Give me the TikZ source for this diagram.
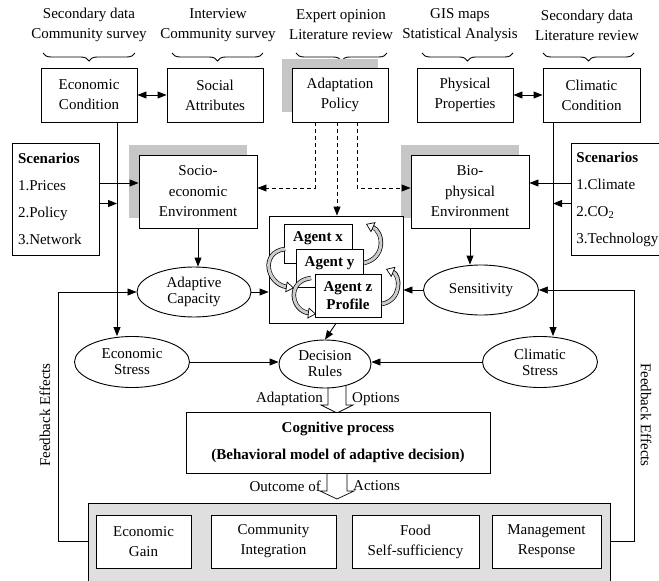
\documentclass[tikz,border=0pt]{standalone}
\usepackage{fontspec}
\setmainfont{Liberation Serif}
\usetikzlibrary{arrows.meta, shapes.geometric, decorations.pathreplacing}
\newcommand\curvarr[4]{%
  \draw[line width=4.4pt, shorten >=7pt] #1 .. controls #2 and #3 .. #4;
  \draw[line width=3pt, gray!40, shorten >=6.6pt] #1 .. controls #2 and #3 .. #4;
  \draw[line width=0.7pt, gray!40, -{Triangle[fill=white, color=black, length=8pt, width=11pt]}] #1 .. controls #2 and #3 .. #4;}
\begin{document}
\begin{tikzpicture}[x=1pt, y=-1pt,
  font=\fontsize{15}{20}\selectfont,
  box/.style={draw, line width=0.9pt, fill=white, align=center, inner sep=0pt},
  ell/.style={draw, ellipse, line width=0.9pt, fill=white, align=center, inner sep=0pt},
  arr/.style={line width=0.9pt, -{Triangle[length=9pt, width=7pt]}},
  darr/.style={line width=0.9pt, {Triangle[length=9pt, width=7pt]}-{Triangle[length=9pt, width=7pt]}},
  dsh/.style={line width=0.9pt, dash pattern=on 4pt off 3pt},
  shadowbox/.style={fill=gray!45, draw=none},
  brc/.style={decorate, decoration={brace, mirror, amplitude=8pt}, line width=0.9pt},
  lbl/.style={align=center, inner sep=0pt},
  fb/.style={line width=0.6pt},
  blk/.style={line width=0.7pt, fill=white},
  agtext/.style={font=\fontsize{15}{18}\selectfont\bfseries, inner sep=0pt, align=center},
]
\useasboundingbox (0,0) rectangle (659,581);

% top labels
\node[lbl] (l1) at (89,25) {Secondary data\\Community survey};
\node[lbl] (l2) at (218,25) {Interview\\Community survey};
\node[lbl] (l3) at (341,25) {Expert opinion\\Literature review};
\node[lbl] (l4) at (460,25) {GIS maps\\Statistical Analysis};
\node[lbl] (l5) at (587,25) {Secondary data\\Literature review};
\draw[brc] (43,53) -- (135,53);
\draw[brc] (172,53) -- (263,53);
\draw[brc] (296,53) -- (387,53);
\draw[brc] (422,53) -- (513,53);
\draw[brc] (543,53) -- (634,53);

% shadows
\fill[shadowbox] (282,59) rectangle (378,112);
\fill[shadowbox] (129,145) rectangle (247,218);
\fill[shadowbox] (401,145) rectangle (519,218);

% top boxes
\node[box, minimum width=96pt, minimum height=54pt] (econ) at (89,95) {Economic\\Condition};
\node[box, minimum width=96pt, minimum height=54pt] (social) at (215,95) {Social\\Attributes};
\node[box, minimum width=96pt, minimum height=54pt] (policy) at (340,95) {Adaptation\\Policy};
\node[box, minimum width=96pt, minimum height=54pt] (phys) at (465,95) {Physical\\Properties};
\node[box, minimum width=97pt, minimum height=54pt] (clim) at (591.5,95) {Climatic\\Condition};
\draw[darr] (econ) -- (social);
\draw[darr] (phys) -- (clim);

% scenario boxes
\node[box, align=left, text width=75pt, inner xsep=6pt, minimum height=112pt,
      font=\fontsize{15}{27}\selectfont] (scenL) at (55.5,199)
      {\textbf{Scenarios}\\1.Prices\\2.Policy\\3.Network};
\node[box, align=left, text width=84pt, inner xsep=5pt, minimum height=112pt,
      font=\fontsize{15}{27}\selectfont, anchor=west] (scenR) at (571,199)
      {\textbf{Scenarios}\\1.Climate\\2.CO\textsubscript{2}\\3.Technology};

% environment boxes
\node[box, minimum width=118pt, minimum height=73pt, font=\fontsize{15}{20.5}\selectfont] (socio) at (198,191.5) {Socio-\\economic\\Environment};
\node[box, minimum width=118pt, minimum height=73pt, font=\fontsize{15}{20.5}\selectfont] (bio) at (470,191.5) {Bio-\\physical\\Environment};

% helper coordinates
\coordinate (xL) at (117,0);
\coordinate (xR) at (553,0);
\coordinate (yA) at (0,183);
\coordinate (yB) at (0,203.5);
\coordinate (yD) at (0,188);
\coordinate (xP1) at (315,0);
\coordinate (xP2) at (337,0);
\coordinate (xP3) at (357,0);

% agents
\node[box, minimum width=134pt, minimum height=107pt] (agents) at (336,269.5) {};
\node[box, minimum width=68pt, minimum height=39pt, anchor=north west] (ax) at (284,224) {};
\node[agtext] (axt) at (318,238.5) {Agent x};
\node[box, minimum width=67pt, minimum height=38pt, anchor=north west] (ay) at (296,249) {};
\node[agtext] (ayt) at (329.5,263) {Agent y};
\node[box, minimum width=66pt, minimum height=43pt, anchor=north west] (az) at (315,274) {};
\node[agtext] (azt) at (348,295.5) {Agent z\\Profile};
\curvarr{(285,249)}{(260,252)}{(266,284)}{(294,288)}
\curvarr{(311,278)}{(286,281)}{(291,311)}{(316,314)}
\curvarr{(364,263)}{(386,258)}{(384,232)}{(366,224)}
\curvarr{(382,304)}{(402,300)}{(401,275)}{(386,269)}

% ellipses
\node[ell, minimum width=114pt, minimum height=50pt] (adcap) at (194,292) {Adaptive\\[-4pt]Capacity};
\node[ell, minimum width=115pt, minimum height=50pt] (sens) at (481,290) {Sensitivity};
\node[ell, minimum width=115pt, minimum height=51pt, font=\fontsize{15}{16}\selectfont] (estress) at (132,362) {Economic\\Stress};
\node[ell, minimum width=115pt, minimum height=51pt, font=\fontsize{15}{16}\selectfont] (cstress) at (540,362) {Climatic\\Stress};

% block arrows
\draw[blk] (328,378) -- (328,405) -- (321,405) -- (337,413) -- (353,405) -- (346,405) -- (346,378);
\draw[blk] (327,470) -- (327,491) -- (320,491) -- (337,499) -- (354,491) -- (347,491) -- (347,470);
\node[ell, minimum width=92pt, minimum height=48pt, font=\fontsize{15}{16}\selectfont] (dec) at (325,364) {Decision\\Rules};
\node[lbl, anchor=east] (adlab) at (323,399) {Adaptation};
\node[lbl, anchor=west] (oplab) at (352,399) {Options};

% cognitive
\node[box, minimum width=304pt, minimum height=61pt, font=\fontsize{15}{27}\selectfont\bfseries] (cog) at (338,442.5) {Cognitive process\\(Behavioral model of adaptive decision)};
\node[lbl, anchor=east] (oclab) at (321,486) {Outcome of};
\node[lbl, anchor=west] (aclab) at (353,486) {Actions};

% outcome area
\node[draw, line width=0.9pt, fill=gray!25, minimum width=522pt, minimum height=92pt, anchor=north west, inner sep=0pt] (outc) at (88,503) {};
\node[box, minimum width=95pt, minimum height=53pt] (o1) at (143.5,541.5) {Economic\\Gain};
\node[box, minimum width=125pt, minimum height=53pt] (o2) at (273.5,541.5) {Community\\Integration};
\node[box, minimum width=127pt, minimum height=53pt] (o3) at (415.5,541.5) {Food\\Self-sufficiency};
\node[box, minimum width=109pt, minimum height=53pt] (o4) at (546.5,541.5) {Management\\Response};

% connectors
\draw[arr] (econ.south -| xL) -- (estress.north -| xL);
\draw[arr] (clim.south -| xR) -- (cstress.north -| xR);
\draw[arr] (scenL.east |- yA) -- (socio.west |- yA);
\draw[arr] (scenL.east |- yB) -- (xL |- yB);
\draw[arr] (scenR.west |- yA) -- (bio.east |- yA);
\draw[arr] (scenR.west |- yB) -- (xR |- yB);
\draw[dsh, -{Triangle[length=9pt, width=7pt]}] (policy.south -| xP1) -- (xP1 |- yD) -- (socio.east |- yD);
\draw[dsh, -{Triangle[length=9pt, width=7pt]}] (policy.south -| xP2) -- (agents.north -| xP2);
\draw[dsh, -{Triangle[length=9pt, width=7pt]}] (policy.south -| xP3) -- (xP3 |- yD) -- (bio.west |- yD);
\draw[arr] (socio.south) -- (socio.south |- adcap.north);
\draw[arr] (bio.south) -- (bio.south |- sens.north);
\draw[arr] (adcap.east) -- (agents.west |- adcap.east);
\draw[arr] (sens.west) -- (agents.east |- sens.west);
\draw[arr] (agents.south) -- (dec.north);
\draw[arr] (estress.east) -- (dec.west |- estress.east);
\draw[arr] (cstress.west) -- (dec.east |- cstress.west);

% feedback
\coordinate (fbL) at (58,541);
\coordinate (fbR) at (634,541);
\draw[fb, -{Triangle[length=9pt, width=7pt]}] (outc.west |- fbL) -- (fbL) -- (fbL |- adcap.west) -- (adcap.west);
\draw[fb, -{Triangle[length=9pt, width=7pt]}] (outc.east |- fbR) -- (fbR) -- (fbR |- sens.east) -- (sens.east);
\node[lbl, rotate=90] (fbt1) at (45,415) {Feedback Effects};
\node[lbl, rotate=-90] (fbt2) at (646,415) {Feedback Effects};
\end{tikzpicture}
\end{document}
